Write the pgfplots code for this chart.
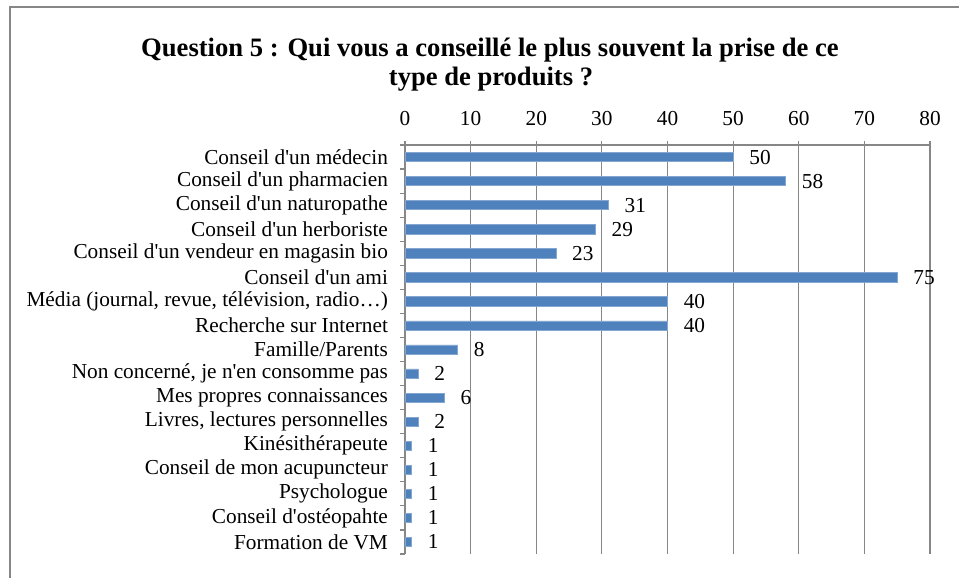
\documentclass[border=0pt]{standalone}
\usepackage{pgfplots}
\pgfplotsset{compat=1.18}
\usepackage{fontspec}
\setmainfont{Liberation Serif}
\definecolor{barblue}{HTML}{4F81BD}
\definecolor{gridgray}{HTML}{878787}
\newcommand{\q}{\textquotesingle}

\begin{document}
\begin{tikzpicture}[x=0.5pt,y=0.5pt]
\useasboundingbox (0,0) rectangle (959,578);
% chart frame (left and top visible)
\draw[gridgray, line width=0.7pt] (10,-5) -- (10,571) -- (970,571);
\node[font=\fontsize{13.3}{15}\selectfont\bfseries, anchor=base] at (490,521) {Question 5 : Qui vous a conseillé le plus souvent la prise de ce};
\node[font=\fontsize{13.3}{15}\selectfont\bfseries, anchor=base] at (491,492) {type de produits ?};
\begin{axis}[
  at={(202.5pt,12pt)}, anchor=south west,
  scale only axis, width=262.5pt, height=204.5pt,
  xbar, bar width=4.6pt,
  xmin=0, xmax=80, ymin=-0.5, ymax=16.5,
  axis x line*=top, axis y line*=left,
  axis line style={gridgray, line width=0.6pt},
  xtick={0,10,...,80},
  xmajorgrids, major grid style={gridgray, line width=0.6pt},
  ytick={0,...,16},
  yticklabels={Formation de VM, Conseil d\q ostéopahte, Psychologue, Conseil de mon acupuncteur, Kinésithérapeute, {Livres, lectures personnelles}, Mes propres connaissances, {Non concerné, je n\q en consomme pas}, Famille/Parents, Recherche sur Internet, {Média (journal, revue, télévision, radio…)}, Conseil d\q un ami, Conseil d\q un vendeur en magasin bio, Conseil d\q un herboriste, Conseil d\q un naturopathe, Conseil d\q un pharmacien, Conseil d\q un médecin},
  major y tick style={draw=none},
  minor ytick={-0.5,0.5,...,16.5},
  minor y tick style={gridgray, line width=0.6pt},
  minor tick length=2.5pt,
  major tick length=2pt,
  x tick style={gridgray, line width=0.6pt},
  tick align=outside,
  tick label style={font=\fontsize{10.65}{12}\selectfont},
  /pgf/number format/assume math mode=true,
  yticklabel style={xshift=-3pt},
  xticklabel style={yshift=4pt},
  nodes near coords,
  nodes near coords style={font=\fontsize{10.65}{12}\selectfont, anchor=west, inner sep=0pt, xshift=8pt, /pgf/number format/assume math mode=true},
  clip=false,
]
\addplot[fill=barblue, draw=barblue!70!white, line width=0.3pt] coordinates {
(1,0) (1,1) (1,2) (1,3) (1,4) (2,5) (6,6) (2,7) (8,8) (40,9) (40,10) (75,11) (23,12) (29,13) (31,14) (58,15) (50,16)};
\end{axis}
\end{tikzpicture}
\end{document}
